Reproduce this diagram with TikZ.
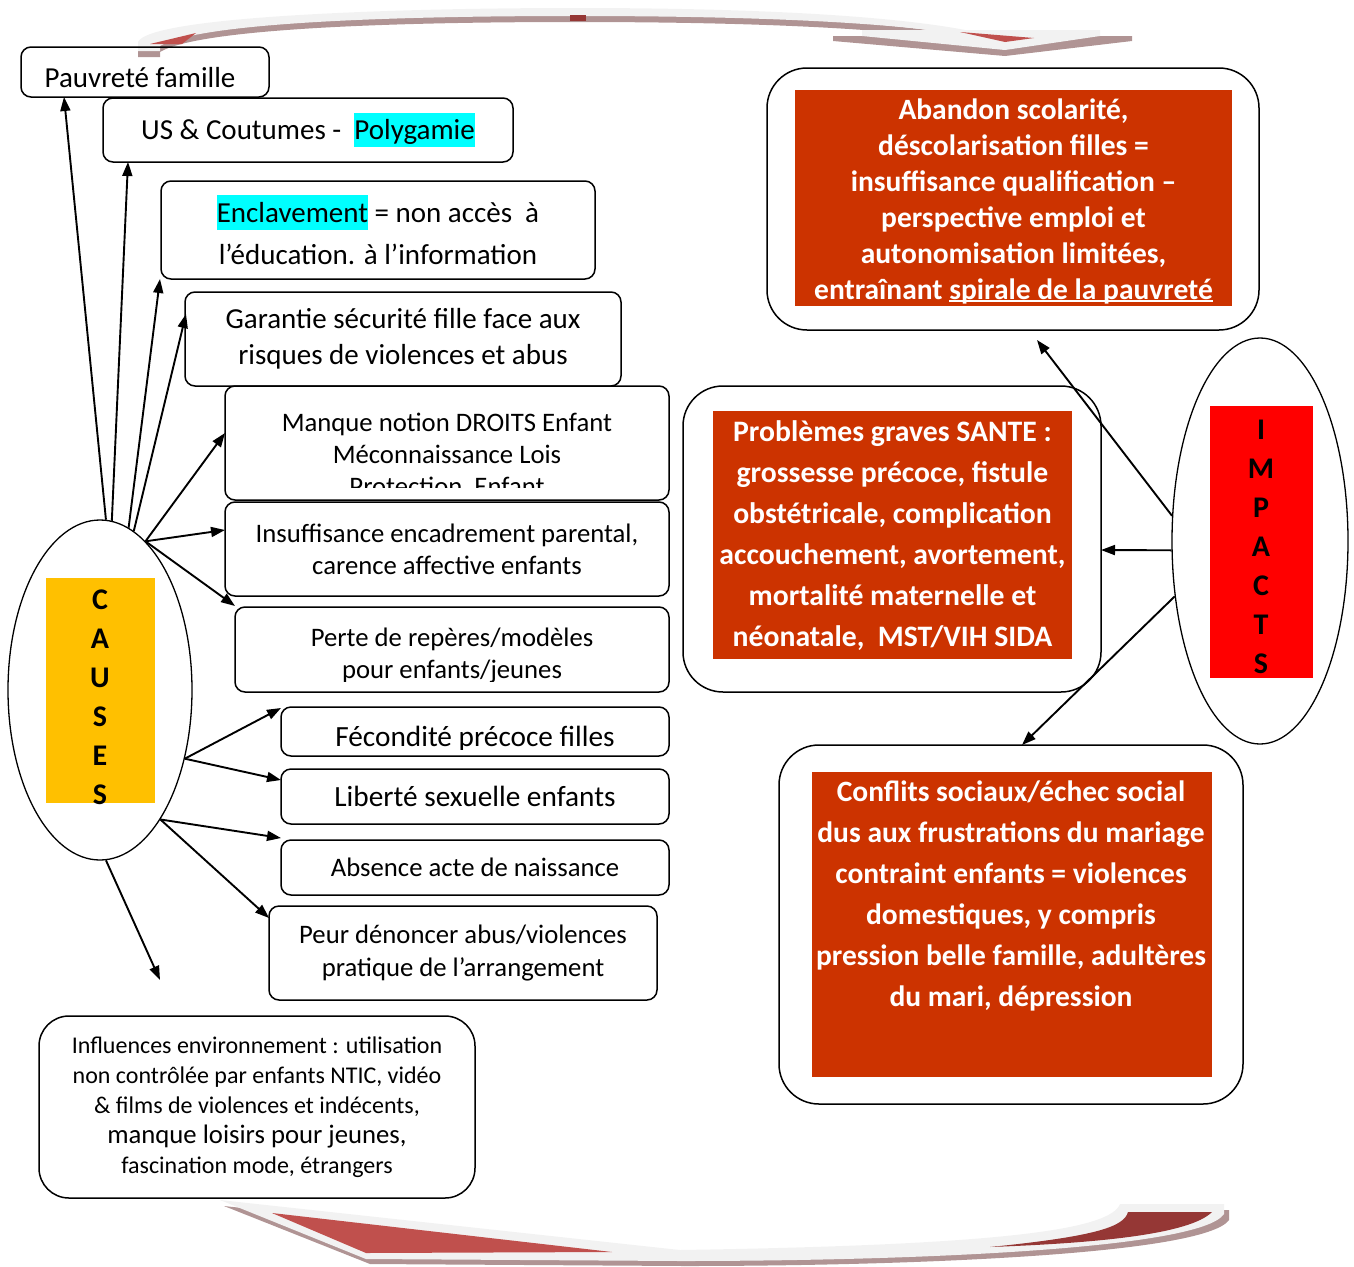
\documentclass[tikz,border=0pt]{standalone}
\usepackage{fontspec}
\setmainfont{Carlito}
\usetikzlibrary{shapes.geometric,arrows.meta,calc}
\definecolor{brick}{HTML}{CC3300}
\definecolor{gold}{HTML}{FFC000}
\definecolor{hilite}{RGB}{0,255,255}
\definecolor{banner}{HTML}{F2F2F2}
\definecolor{bshadow}{HTML}{B09494}
\definecolor{bred}{HTML}{C0504D}
\definecolor{bdark}{HTML}{953735}
\newcommand{\fs}[2]{\fontsize{#1}{#2}\selectfont}
\newcommand{\hl}[1]{{\setlength{\fboxsep}{0pt}\colorbox{hilite}{\rule[-0.27em]{0pt}{1.2em}#1}}}
\newcommand{\uline}[1]{\rlap{\rule[-2.5pt]{\widthof{#1}}{1.4pt}}#1}
\usepackage{calc}

\begin{document}
\begin{tikzpicture}[x=1pt, y=-1pt,
	box/.style={draw, line width=1.5pt, rounded corners=10pt, inner sep=0pt, outer sep=0pt, align=center},
	bigbox/.style={box, rounded corners=40pt},
	redbox/.style={fill=brick, inner sep=0pt},
	redtext/.style={align=center, text=white},
	arr/.style={-{Triangle[length=14pt,width=10pt]}, line width=1.9pt}]
	\useasboundingbox (0,0) rectangle (1354,1266);

	% decorative banners, top and bottom
	\fill[bshadow] (138,48) .. controls (150,22) and (400,14) .. (575,14) .. controls (800,14) and (920,26) .. (975,38)
		-- (975,43) .. controls (920,32) and (800,22) .. (575,22) .. controls (400,22) and (200,28) .. (160,52) -- (160,57) -- (138,57) -- cycle;
	\fill[banner] (138,42) .. controls (150,16) and (400,8) .. (575,8) .. controls (800,8) and (920,20) .. (975,32)
		-- (975,37) .. controls (920,26) and (800,16) .. (575,16) .. controls (400,16) and (200,22) .. (160,46) -- (160,51) -- (138,51) -- cycle;
	\fill[bdark] (570,15) rectangle (586,21);
	\fill[bred] (150,44) -- (196,33) -- (182,44) -- cycle;
	\fill[bshadow] (833,36) -- (1132,36) -- (1132,41) -- (1005,56) -- (833,41) -- cycle;
	\fill[banner] (862,30) -- (1100,30) -- (1100,36) -- (1005,50) -- (862,36) -- cycle;
	\fill[bred] (960,32) -- (1034,38) -- (1005,42) -- cycle;

	\fill[bshadow] (224,1206) -- (684,1256) -- (684,1266) -- (370,1264) -- cycle;
	\fill[bshadow] (684,1255) .. controls (1000,1250) and (1115,1235) .. (1125,1210) -- (1229,1210)
		-- (1229,1220) .. controls (1204,1255) and (904,1266) .. (684,1266) -- cycle;
	\fill[banner] (220,1200) -- (680,1250) -- (680,1261) -- (366,1259) -- cycle;
	\fill[banner] (680,1250) .. controls (1000,1245) and (1110,1230) .. (1120,1204) -- (1224,1204)
		-- (1224,1214) .. controls (1200,1250) and (900,1261) .. (680,1261) -- cycle;
	\fill[bred] (272,1213) -- (612,1252) -- (366,1253) -- cycle;
	\fill[bdark] (990,1247) .. controls (1100,1236) and (1124,1226) .. (1128,1212) -- (1212,1212)
		.. controls (1190,1234) and (1100,1243) .. (990,1247) -- cycle;

	% causes
	\node[draw, ellipse, line width=1.3pt, minimum width=184pt, minimum height=340pt, inner sep=0pt] (causes) at (100,690) {};
	\node[fill=gold, minimum width=109pt, minimum height=225pt, inner sep=0pt] (causesR) at (100,690.5) {};
	\node[align=center, font=\fs{30}{39}\bfseries] (causesT) at (100,697) {C\\A\\U\\S\\E\\S};

	\node[box, minimum width=248pt, minimum height=50pt] (pauv) at (145,72) {};
	\begin{scope}
		\clip (21,47) rectangle (269,89);
		\node[font=\fs{29}{30}] (pauvT) at (140,78) {Pauvreté famille};
	\end{scope}
	\node[box, minimum width=410pt, minimum height=64pt, font=\fs{29}{30}] (us) at (308,130)
		{US \& Coutumes -\ \ \hl{Polygamie}};
	\node[box, minimum width=434pt, minimum height=98pt, font=\fs{29}{42}] (encl) at (378,230)
		{\hl{Enclavement} = non accès\ \ à\\ l’éducation. à l’information};
	\node[box, minimum width=436pt, minimum height=94pt, font=\fs{29}{36}] (gar) at (403,339)
		{Garantie sécurité fille face aux\\ risques de violences et abus};
	\node[box, minimum width=444pt, minimum height=114pt] (manque) at (447,443) {};
	\begin{scope}
		\clip (225,386) rectangle (669,487);
		\node[align=center, font=\fs{26.7}{32}] (manqueT) at (447,454)
			{Manque notion DROITS Enfant\\ Méconnaissance Lois\\ Protection\ \ Enfant};
	\end{scope}
	\node[box, minimum width=444pt, minimum height=94pt, font=\fs{26.7}{32}] (insuf) at (447,549)
		{Insuffisance encadrement parental,\\ carence affective enfants};
	\node[box, minimum width=434pt, minimum height=85pt] (perte) at (452,649.5) {};
	\begin{scope}
		\clip (235,607) rectangle (669,681);
		\node[align=center, font=\fs{26.7}{32}] (perteT) at (452,656)
			{Perte de repères/modèles\\ pour enfants/jeunes};
	\end{scope}
	\node[box, minimum width=388pt, minimum height=49pt] (fec) at (475,731.5) {};
	\begin{scope}
		\clip (281,707) rectangle (669,749);
		\node[font=\fs{29.3}{30}] (fecT) at (475,739) {Fécondité précoce filles};
	\end{scope}
	\node[box, minimum width=388pt, minimum height=55pt, font=\fs{29.3}{30}] (lib) at (475,796.5) {Liberté sexuelle enfants};
	\node[box, minimum width=388pt, minimum height=55pt, font=\fs{26.7}{30}] (abs) at (475,867.5) {Absence acte de naissance};
	\node[box, minimum width=388pt, minimum height=94pt, font=\fs{26.7}{33}] (peur) at (463,953)
		{Peur dénoncer abus/violences\\ pratique de l’arrangement};
	\node[box, rounded corners=30pt, minimum width=436pt, minimum height=182pt, font=\fs{24}{30}] (infl) at (257,1107)
		{Influences environnement : utilisation\\ non contrôlée par enfants NTIC, vidéo\\ \& films de violences et indécents,\\
		{\fs{26.7}{30}manque loisirs pour jeunes,}\\ fascination mode, étrangers};
	\coordinate (loose) at (160,980);

	% impacts
	\node[draw, ellipse, line width=1.3pt, minimum width=176pt, minimum height=406pt, inner sep=0pt] (impacts) at (1260,541) {};
	\node[fill=red, minimum width=103pt, minimum height=272pt, inner sep=0pt] (impactsR) at (1261.5,542) {};
	\node[align=center, font=\fs{30}{39}\bfseries] (impactsT) at (1261,547) {I\\M\\P\\A\\C\\T\\S};

	\node[bigbox, minimum width=492pt, minimum height=262pt] (aban) at (1013,199) {};
	\node[redbox, minimum width=437pt, minimum height=216pt] (abanR) at (1013.5,198) {};
	\node[redtext, font=\fs{29.5}{36}\bfseries] (abanT) at (1013.5,201)
		{Abandon scolarité,\\ déscolarisation filles =\\ insuffisance qualification –\\ perspective emploi et\\
		autonomisation limitées,\\ entraînant \uline{spirale de la pauvreté}};
	\node[bigbox, minimum width=418pt, minimum height=306pt] (prob) at (892,539) {};
	\node[redbox, minimum width=359pt, minimum height=248pt] (probR) at (892.5,535) {};
	\node[redtext, font=\fs{29.7}{41}\bfseries] (probT) at (892.5,536)
		{Problèmes graves SANTE :\\ grossesse précoce, fistule\\ obstétricale, complication\\ accouchement, avortement,\\
		mortalité maternelle et\\ néonatale,\ \ MST/VIH SIDA};
	\node[bigbox, minimum width=464pt, minimum height=359pt] (conf) at (1011,924.5) {};
	\node[redbox, minimum width=400pt, minimum height=305pt] (confR) at (1012,924.5) {};
	\node[redtext, font=\fs{29.5}{41}\bfseries] (confT) at (1011,896)
		{Conflits sociaux/échec social\\ dus aux frustrations du mariage\\ contraint enfants = violences\\ domestiques, y compris\\
		pression belle famille, adultères\\ du mari, dépression};

	% arrows
	\path [arr] (causes.88) edge ($(pauv.south west)+(43,0)$);
	\path [arr] (causes.86) edge ($(us.south west)+(25,0)$);
	\path [arr] (causes.80) edge ($(encl.south west)+(-1,0)$);
	\path [arr] (causes.78) edge ($(gar.north west)+(1,22)$);
	\path [arr] (causes.73) edge ($(manque.north west)+(0,47)$);
	\path [arr] (causes.73) edge ($(insuf.north west)+(0,28)$);
	\path [arr] (causes.73) edge ($(perte.north west)+(0,-1)$);
	\path [arr] (causes.-39) edge ($(fec.north west)+(0,1)$);
	\path [arr] (causes.-39) edge ($(lib.north west)+(0,11)$);
	\path [arr] (causes.-65) edge ($(abs.north west)+(0,-2)$);
	\path [arr] (causes.-65) edge ($(peur.north west)+(0,12)$);
	\path [arr] (causes.-88) edge (loose);

	\path [arr] (impacts.164) edge ($(aban.south)+(24,10)$);
	\path [arr] (impacts.186) edge ($(prob.east)+(0,11)$);
	\path [arr] (impacts.213) edge ($(conf.north)+(11,0)$);
\end{tikzpicture}
\end{document}
